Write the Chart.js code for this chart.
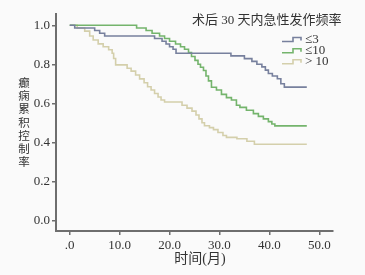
<!DOCTYPE html>
<html><head><meta charset="utf-8">
<script src="https://cdn.jsdelivr.net/npm/chart.js@4.4.0/dist/chart.umd.min.js"></script>
<style>html,body{margin:0;padding:0;background:#fafafa;}canvas{display:block;}</style>
</head><body>
<canvas id="c" width="365" height="275"></canvas>
<script>
// ---- data ----
const legendTitle = "术后 30 天内急性发作频率";
const seriesLabels = ["≤3", "≤10", "> 10"];
const xTicks = [0, 10, 20, 30, 40, 50];
const yTicks = [0, 0.2, 0.4, 0.6, 0.8, 1.0];
const xTitle = "时间(月)";
const yTitle = "癫痫累积控制率";

const t1 = [0, 1.0, 5.0, 6.0, 7.0, 17.0, 18.5, 19.3, 20.0, 20.7, 21.3, 32.3, 35.0, 36.5, 37.5, 38.5, 39.2, 39.8, 40.6, 41.6, 42.3, 43.0, 47.5];
const s1 = [1.0, 0.986, 0.973, 0.959, 0.945, 0.932, 0.918, 0.904, 0.89, 0.877, 0.857, 0.843, 0.829, 0.815, 0.80, 0.787, 0.77, 0.753, 0.74, 0.726, 0.70, 0.683, 0.683];

const t2 = [0, 13.4, 15.3, 16.5, 18.0, 19.0, 20.0, 21.2, 22.2, 23.0, 23.8, 24.4, 25.1, 25.7, 26.2, 26.8, 27.3, 27.8, 28.4, 29.4, 30.4, 31.4, 32.4, 33.4, 34.1, 35.4, 36.8, 37.8, 38.8, 39.8, 40.5, 41.1, 47.5];
const s2 = [1.0, 0.986, 0.973, 0.959, 0.945, 0.932, 0.918, 0.904, 0.89, 0.877, 0.86, 0.84, 0.82, 0.80, 0.785, 0.768, 0.74, 0.715, 0.682, 0.668, 0.646, 0.629, 0.617, 0.59, 0.579, 0.564, 0.547, 0.533, 0.52, 0.506, 0.494, 0.484, 0.484];

const t3 = [0, 1.5, 3.0, 4.0, 4.7, 5.7, 6.7, 7.8, 8.5, 8.8, 9.2, 11.5, 12.3, 13.2, 14.0, 14.9, 15.6, 16.3, 17.0, 17.7, 18.3, 19.0, 22.5, 23.5, 24.5, 25.3, 25.9, 26.5, 27.0, 28.0, 28.8, 29.7, 30.7, 31.4, 33.5, 35.5, 37.0, 47.5];
const s3 = [1.0, 0.986, 0.97, 0.945, 0.925, 0.905, 0.89, 0.875, 0.857, 0.83, 0.797, 0.78, 0.765, 0.745, 0.725, 0.705, 0.685, 0.668, 0.65, 0.632, 0.617, 0.607, 0.59, 0.575, 0.56, 0.54, 0.52, 0.50, 0.485, 0.475, 0.465, 0.45, 0.435, 0.425, 0.418, 0.405, 0.39, 0.39];

const colors = ["#77809d", "#74b46c", "#d4cfab"];

const toPts = (t, s) => t.map((x, i) => ({x: x, y: s[i]}));

const axisColor = "#6e6e6e";
const serif = "'Liberation Serif', 'Noto Sans CJK SC', serif";

const extras = {
  id: 'extras',
  afterDraw(chart) {
    const ctx = chart.ctx;
    ctx.save();
    ctx.fillStyle = "#333";
    // y title, stacked vertical
    ctx.font = "11.5px " + serif;
    ctx.textAlign = "center";
    ctx.textBaseline = "middle";
    const chars = Array.from(yTitle);
    chars.forEach((ch, i) => ctx.fillText(ch, 24, 84 + i * 13.2));
    // x title
    ctx.font = "14px " + serif;
    ctx.fillText(xTitle, 200, 259);
    // legend title
    ctx.font = "13px " + serif;
    ctx.textAlign = "left";
    ctx.fillText(legendTitle, 192, 21);
    // legend items
    const rows = [39.5, 50.7, 61.7];
    chart.data.datasets.forEach((ds, i) => {
      const y = rows[i];
      ctx.strokeStyle = ds.borderColor;
      ctx.lineWidth = 1.6;
      ctx.beginPath();
      ctx.moveTo(282, y + 2);
      ctx.lineTo(293, y + 2);
      ctx.lineTo(293, y - 2);
      ctx.lineTo(301, y - 2);
      ctx.lineTo(301, y + 1);
      ctx.stroke();
      ctx.fillStyle = "#333";
      ctx.fillText(ds.label, 305, y);
    });
    ctx.restore();
  }
};

new Chart(document.getElementById('c'), {
  type: 'line',
  data: {
    datasets: [
      {label: seriesLabels[0], data: toPts(t1, s1), borderColor: colors[0]},
      {label: seriesLabels[1], data: toPts(t2, s2), borderColor: colors[1]},
      {label: seriesLabels[2], data: toPts(t3, s3), borderColor: colors[2]}
    ].map(d => Object.assign(d, {stepped: 'before', borderWidth: 1.6, pointRadius: 0, fill: false}))
  },
  options: {
    responsive: false,
    animation: false,
    layout: {padding: {left: 0, top: 14, right: 32, bottom: 0}},
    plugins: {legend: {display: false}, tooltip: {enabled: false}},
    scales: {
      x: {
        type: 'linear', min: -2.75, max: 52.75,
        afterBuildTicks: s => { s.ticks = xTicks.map(v => ({value: v})); },
        afterFit: s => { s.height = 44; },
        ticks: {
          font: {family: serif, size: 13}, color: "#333", padding: 3, maxRotation: 0,
          callback: v => v === 0 ? '.0' : v.toFixed(1)
        },
        grid: {drawOnChartArea: false, drawTicks: true, tickLength: 4, color: axisColor, lineWidth: 1.5},
        border: {display: true, color: axisColor, width: 2}
      },
      y: {
        type: 'linear', min: -0.055, max: 1.058,
        afterBuildTicks: s => { s.ticks = yTicks.map(v => ({value: v})); },
        afterFit: s => { s.width = 56; },
        ticks: {
          font: {family: serif, size: 13}, color: "#333", padding: 2,
          callback: v => v.toFixed(1)
        },
        grid: {drawOnChartArea: false, drawTicks: true, tickLength: 4, color: axisColor, lineWidth: 1.5},
        border: {display: true, color: axisColor, width: 2}
      }
    }
  },
  plugins: [extras]
});
</script>
</body></html>
